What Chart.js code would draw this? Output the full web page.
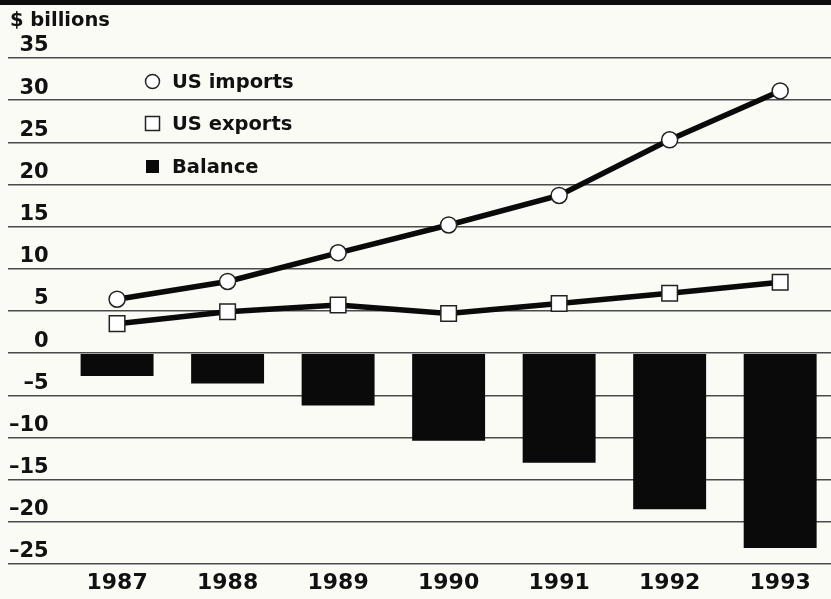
<!DOCTYPE html>
<html>
<head>
<meta charset="utf-8">
<script src="https://cdn.jsdelivr.net/npm/chart.js@4/dist/chart.umd.min.js"></script>
<style>
  html, body { margin: 0; padding: 0; background: #fbfbf6; }
  #wrap { width: 831px; height: 599px; position: relative; }
</style>
</head>
<body>
<div id="wrap"><canvas id="c" width="831" height="599"></canvas></div>
<script>
// US trade with China, $ billions
const years = [1987, 1988, 1989, 1990, 1991, 1992, 1993];
const usImports = [6.4, 8.5, 11.9, 15.2, 18.7, 25.3, 31.1];
const usExports = [3.5, 4.9, 5.7, 4.7, 5.9, 7.1, 8.4];
const balance = [-2.7, -3.6, -6.2, -10.4, -13.0, -18.5, -23.1];
const yTicks = [-25, -20, -15, -10, -5, 0, 5, 10, 15, 20, 25, 30, 35];
const yTickLabels = ['–25', '–20', '–15', '–10', '–5', '0', '5', '10', '15', '20', '25', '30', '35'];
const unitLabel = '$ billions';

const FONT = '"DejaVu Sans", "Liberation Sans", sans-serif';
const INK = '#111';

const pts = arr => arr.map((v, i) => ({ x: years[i], y: v }));

// Top band, unit caption and the stacked key in the upper left
const decor = {
  id: 'decor',
  beforeDraw(chart) {
    const ctx = chart.ctx;
    ctx.save();
    ctx.fillStyle = '#fbfbf6';
    ctx.fillRect(0, 0, chart.width, chart.height);
    ctx.restore();
  },
  afterDraw(chart) {
    const ctx = chart.ctx;
    ctx.save();
    ctx.fillStyle = '#0d0d0d';
    ctx.fillRect(0, 0, chart.width, 5);

    ctx.fillStyle = INK;
    ctx.font = 'bold 19.5px ' + FONT;
    ctx.textBaseline = 'alphabetic';
    ctx.textAlign = 'left';
    ctx.fillText(unitLabel, 10, 26);

    const keyX = 152.5, textX = 172;
    const rows = [88, 130, 173];
    chart.data.datasets.forEach((ds, i) => {
      const base = rows[i];
      const cy = base - 6.5;
      ctx.lineWidth = 1.5;
      ctx.strokeStyle = '#222';
      if (ds.type === 'bar') {
        ctx.fillStyle = '#0a0a0a';
        ctx.fillRect(keyX - 6.5, cy - 6.5, 13, 13);
      } else if (ds.pointStyle === 'rect') {
        ctx.fillStyle = '#fff';
        ctx.fillRect(keyX - 7, cy - 7, 14, 14);
        ctx.strokeRect(keyX - 7, cy - 7, 14, 14);
      } else {
        ctx.fillStyle = '#fff';
        ctx.beginPath();
        ctx.arc(keyX, cy, 7, 0, Math.PI * 2);
        ctx.fill();
        ctx.stroke();
      }
      ctx.fillStyle = INK;
      ctx.font = 'bold 19.5px ' + FONT;
      ctx.fillText(ds.label, textX, base);
    });
    ctx.restore();
  }
};

new Chart(document.getElementById('c'), {
  type: 'line',
  data: {
    datasets: [
      {
        label: 'US imports',
        data: pts(usImports),
        borderColor: '#0a0a0a',
        borderWidth: 5.5,
        pointStyle: 'circle',
        pointRadius: 8,
        pointBackgroundColor: '#fff',
        pointBorderColor: '#222',
        pointBorderWidth: 1.5,
        tension: 0,
        order: 1
      },
      {
        label: 'US exports',
        data: pts(usExports),
        borderColor: '#0a0a0a',
        borderWidth: 5.5,
        pointStyle: 'rect',
        pointRadius: 11,
        pointBackgroundColor: '#fff',
        pointBorderColor: '#222',
        pointBorderWidth: 1.5,
        tension: 0,
        order: 2
      },
      {
        type: 'bar',
        label: 'Balance',
        data: pts(balance),
        backgroundColor: '#0a0a0a',
        borderWidth: 0,
        barPercentage: 1,
        categoryPercentage: 0.66,
        order: 3
      }
    ]
  },
  options: {
    responsive: false,
    animation: false,
    events: [],
    layout: { autoPadding: false, padding: { top: 58, left: 8, right: 0, bottom: 0 } },
    plugins: { legend: { display: false }, tooltip: { enabled: false }, title: { display: false } },
    scales: {
      x: {
        type: 'linear',
        min: 1986.013,
        max: 1993.46,
        offset: false,
        grid: { display: false, drawTicks: false },
        border: { display: false },
        afterBuildTicks: s => { s.ticks = years.map(v => ({ value: v })); },
        afterFit: s => { s.height = 35; s.paddingLeft = 0; s.paddingRight = 0; },
        ticks: {
          color: INK,
          padding: 6,
          font: { family: FONT, size: 22, weight: 'bold' },
          callback: v => String(v)
        }
      },
      y: {
        type: 'linear',
        min: -25,
        max: 35,
        grid: { color: '#4a4a4a', lineWidth: 1.5, drawTicks: false },
        border: { display: false },
        afterBuildTicks: s => { s.ticks = yTicks.map(v => ({ value: v })); },
        afterFit: s => { s.width = 0; s.paddingTop = 0; s.paddingBottom = 0; },
        ticks: {
          mirror: true,
          crossAlign: 'far',
          padding: 1,
          labelOffset: -12,
          color: INK,
          font: { family: FONT, size: 21, weight: 'bold' },
          callback: v => yTickLabels[yTicks.indexOf(v)]
        }
      }
    }
  },
  plugins: [decor]
});
</script>
</body>
</html>
